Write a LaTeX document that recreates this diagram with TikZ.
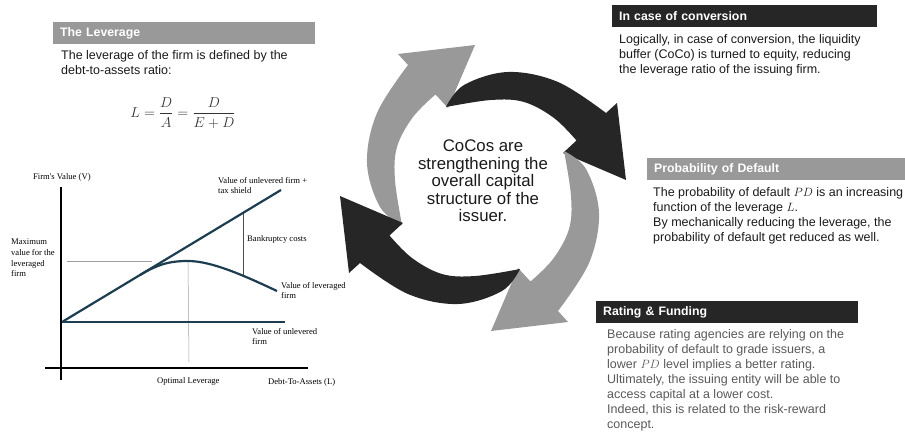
\documentclass[tikz,border=0pt]{standalone}
\usepackage{amsmath}
\usepackage{fontspec}
\setmainfont{Liberation Sans}
\newfontfamily\graphfont{Liberation Serif}
\usepackage{xcolor}
\usepackage{tikz}
\usetikzlibrary{positioning}

\definecolor{barblack}{HTML}{262626}
\definecolor{bargray}{HTML}{999999}
\definecolor{textdark}{HTML}{1A1A1A}
\definecolor{textgray}{HTML}{595959}
\definecolor{curveblue}{HTML}{1D3D50}

% one curved arrow of the cycle, turned about the centre
\newcommand{\cycarrow}[2]{%
  \begin{scope}[shift={(483,188)}, y=1pt, rotate=#1]
    \fill[#2] plot[smooth, tension=0.6] coordinates {(-81,-37) (-103,-19) (-116,25) (-106,75) (-75,123)}
      -- (-85,134) -- (-8,143) -- (-35,80) -- (-47.5,93.5)
      -- plot[smooth, tension=0.6] coordinates {(-47.5,93.5) (-70,71) (-86,41) (-88,8) (-81,-37)} -- cycle;
  \end{scope}}

\begin{document}
\begin{tikzpicture}[x=1pt, y=-1pt,
  header/.style={anchor=north west, minimum height=22pt, inner xsep=7pt, inner ysep=0pt,
                 text=white, font=\fontsize{12.3}{14}\selectfont\bfseries, align=left},
  body/.style={anchor=north west, inner sep=0pt, font=\fontsize{12.5}{15}\selectfont,
               align=left, text=textdark},
  glabel/.style={inner sep=0pt, font=\graphfont\fontsize{8.6}{10.7}\selectfont, align=left},
  valline/.style={draw=curveblue, line width=2.2pt},
  guide/.style={draw=gray!75, line width=0.5pt}
]
  \useasboundingbox (0,0) rectangle (905,434);

  % the leverage
  \node[header, fill=bargray, text width=248pt] (levhdr) at (53,22) {The Leverage};
  \node[body] (levtxt) at (61,50.5) {The leverage of the firm is defined by the\\debt-to-assets ratio:};
  \node[text=black!80, font=\fontsize{13.4}{16}\selectfont] (levfrm) at (183,113)
    {$L=\dfrac{D}{A}=\dfrac{D}{E+D}$};

  % graph
  \coordinate (ybot) at (61,380);
  \coordinate (ytop) at (61,187);
  \coordinate (xleft) at (45,368);
  \coordinate (xright) at (308,368);
  \coordinate (orig) at (62,322);
  \coordinate (shieldend) at (281,190);
  \coordinate (unlevend) at (285,322);
  \coordinate (touch) at (140,275);
  \coordinate (peak) at (188,261);
  \coordinate (levend) at (277,291);
  \coordinate (maxl) at (67,261);
  \coordinate (maxr) at (152,261);
  \coordinate (optbot) at (189,362);
  \coordinate (bktop) at (243,213);
  \coordinate (bkbot) at (243,275);

  \draw[line width=1.8pt] (ybot) -- (ytop);
  \draw[line width=1.8pt] (xleft) -- (xright);
  \draw[guide] (maxl) -- (maxr);
  \draw[guide] (peak) -- (optbot);
  \draw[draw=gray!60!black, line width=0.6pt] (bktop) -- (bkbot);
  \draw[valline] (orig) -- (shieldend);
  \draw[valline] (orig) -- (unlevend);
  \draw[valline] (touch) .. controls (160,263) and (172,261) .. (peak)
                         .. controls (212,261) and (245,276) .. (levend);

  \node[glabel, anchor=west] (vlab) at (33,177) {Firm's Value (V)};
  \node[glabel, anchor=north west] (shieldlab) at (218,177) {Value of unlevered firm +\\tax shield};
  \node[glabel, anchor=west] (bklab) at (247,239) {Bankruptcy costs};
  \node[glabel, anchor=north west] (levlab) at (281,282) {Value of leveraged\\firm};
  \node[glabel, anchor=north west] (unlevlab) at (252,328) {Value of unlevered\\firm};
  \node[glabel, anchor=north west] (maxlab) at (11,239) {Maximum\\value for the\\leveraged\\firm};
  \node[glabel, anchor=west] (optlab) at (157,381) {Optimal Leverage};
  \node[glabel, anchor=west] (xlab) at (268,382) {Debt-To-Assets (L)};

  % cycle of arrows
  \cycarrow{0}{bargray}
  \cycarrow{-90}{barblack}
  \cycarrow{180}{bargray}
  \cycarrow{90}{barblack}
  \node[align=center, text=textdark, font=\fontsize{16.8}{17.5}\selectfont] (core) at (483,181)
    {CoCos are\\strengthening the\\overall capital\\structure of the\\issuer.};

  % conversion
  \node[header, fill=barblack, text width=251pt] (convhdr) at (612,5) {In case of conversion};
  \node[body] (convtxt) at (619,34.5) {Logically, in case of conversion, the liquidity\\buffer (CoCo) is turned to equity, reducing\\the leverage ratio of the issuing firm.};

  % probability of default
  \node[header, fill=bargray, text width=244pt] (pdhdr) at (647,158) {Probability of Default};
  \node[body] (pdtxt) at (653,187.5) {The probability of default $PD$ is an increasing\\function of the leverage $L$.\\By mechanically reducing the leverage, the\\probability of default get reduced as well.};

  % rating
  \node[header, fill=barblack, text width=248pt] (rathdr) at (596,301) {Rating \& Funding};
  \node[body, text=textgray] (rattxt) at (607,329.5) {Because rating agencies are relying on the\\probability of default to grade issuers, a\\lower $PD$ level implies a better rating.\\Ultimately, the issuing entity will be able to\\access capital at a lower cost.\\Indeed, this is related to the risk-reward\\concept.};
\end{tikzpicture}
\end{document}
